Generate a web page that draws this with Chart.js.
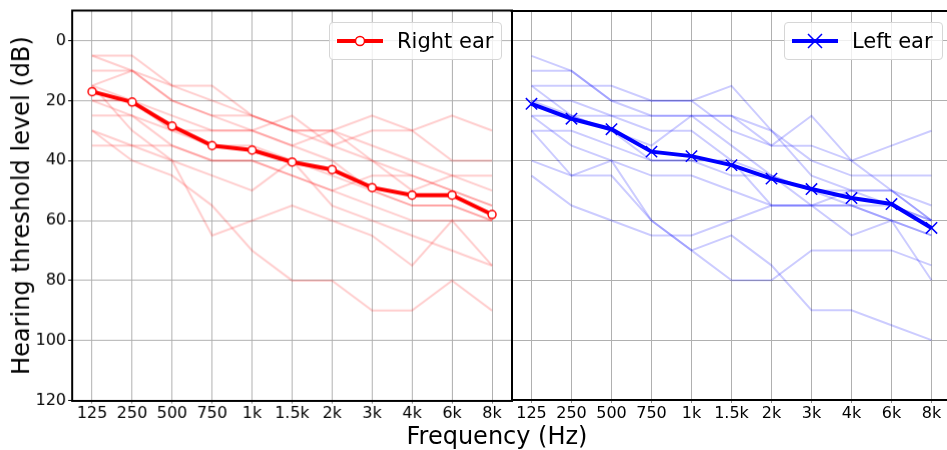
<!DOCTYPE html>
<html>
<head>
<meta charset="utf-8">
<script src="https://cdn.jsdelivr.net/npm/chart.js@4/dist/chart.umd.min.js"></script>
<style>
  html, body { margin: 0; padding: 0; background: #fff; overflow: hidden; }
  #wrap { position: relative; width: 947px; height: 450px; overflow: hidden; font-family: 'DejaVu Sans', sans-serif; }
  canvas { position: absolute; top: 0; }
  #xtitle { position: absolute; left: 0; width: 994px; top: 422px; text-align: center; font-size: 24px; color: #000; }
  .leg { position: absolute; top: 22px; height: 36px; border: 1px solid #d6d6d6; border-radius: 4px;
         background: rgba(255,255,255,0.8); display: flex; align-items: center; font-size: 21px; color: #000; }
  .leg svg { margin: 0 14px 0 7px; }
</style>
</head>
<body>
<div id="wrap">
  <canvas id="cRight" width="520" height="450" style="left:0"></canvas>
  <canvas id="cLeft" width="460" height="450" style="left:509px"></canvas>
  <div id="xtitle">Frequency (Hz)</div>
  <div class="leg" style="left:329px;width:171px">
    <svg width="46" height="20"><line x1="0" y1="10" x2="46" y2="10" stroke="#ff0000" stroke-width="4"/><circle cx="23" cy="10" r="4.5" fill="#fff" stroke="#ff0000" stroke-width="1.5"/></svg>
    <span>Right ear</span>
  </div>
  <div class="leg" style="left:784px;width:157px">
    <svg width="46" height="20"><line x1="0" y1="10" x2="46" y2="10" stroke="#0000ff" stroke-width="4"/><path d="M16 3 L30 17 M30 3 L16 17" stroke="#0000ff" stroke-width="1.5"/></svg>
    <span>Left ear</span>
  </div>
</div>
<script>
// frequencies on the x axis
const freqs = ['125', '250', '500', '750', '1k', '1.5k', '2k', '3k', '4k', '6k', '8k'];
const yTicks = [0, 20, 40, 60, 80, 100, 120];

// mean thresholds (dB)
const rightMean = [17, 20.5, 28.5, 35, 36.5, 40.5, 43, 49, 51.5, 51.5, 58];
const leftMean = [21, 26, 29.5, 37, 38.5, 41.5, 46, 49.5, 52.5, 54.5, 62.5];

// individual audiograms, right ear
const rightSubjects = [
  [5, 5, 15, 20, 25, 30, 35, 40, 45, 50, 55],
  [5, 10, 20, 25, 25, 30, 30, 35, 40, 45, 45],
  [10, 10, 20, 25, 30, 25, 35, 30, 30, 40, 40],
  [15, 10, 15, 15, 25, 30, 30, 25, 30, 25, 30],
  [15, 20, 25, 30, 30, 35, 30, 40, 50, 45, 50],
  [20, 20, 30, 35, 35, 40, 45, 50, 55, 55, 60],
  [25, 25, 35, 40, 40, 45, 50, 55, 60, 60, 75],
  [30, 40, 45, 55, 70, 80, 80, 90, 90, 80, 90],
  [30, 35, 40, 45, 50, 40, 55, 60, 65, 70, 75],
  [35, 35, 35, 40, 40, 45, 50, 45, 45, 50, 55],
  [15, 30, 40, 65, 60, 55, 60, 65, 75, 60, 60],
  [20, 25, 30, 30, 30, 35, 40, 50, 55, 55, 60]
];

// individual audiograms, left ear
const leftSubjects = [
  [5, 10, 20, 25, 25, 25, 35, 35, 40, 50, 60],
  [10, 10, 20, 20, 20, 15, 30, 45, 50, 50, 55],
  [15, 15, 15, 20, 20, 30, 35, 25, 40, 35, 30],
  [15, 25, 30, 35, 25, 25, 30, 40, 45, 45, 45],
  [20, 20, 25, 25, 25, 35, 45, 50, 50, 55, 60],
  [25, 25, 30, 40, 40, 45, 45, 55, 55, 60, 80],
  [30, 30, 35, 40, 40, 40, 55, 55, 55, 55, 60],
  [40, 45, 40, 45, 45, 50, 55, 55, 65, 60, 65],
  [45, 55, 60, 65, 65, 60, 55, 55, 50, 50, 60],
  [30, 45, 45, 60, 70, 80, 80, 70, 70, 70, 75],
  [25, 35, 40, 60, 70, 65, 75, 90, 90, 95, 100],
  [20, 25, 25, 30, 30, 40, 45, 50, 55, 60, 65]
];

Chart.defaults.font.family = "'DejaVu Sans', sans-serif";
Chart.defaults.color = '#000';

const topSpine = {
  id: 'topSpine',
  afterDraw(chart) {
    const a = chart.chartArea, ctx = chart.ctx;
    ctx.save();
    ctx.strokeStyle = '#000';
    ctx.lineWidth = 2;
    ctx.beginPath();
    ctx.moveTo(a.left - 1, a.top);
    ctx.lineTo(a.right + 1, a.top);
    ctx.stroke();
    ctx.restore();
  }
};

function build(canvas, subjects, mean, color, faint, pointStyle, withAxis)
{
  let sets = [];
  sets.push({
    data: mean,
    borderColor: color,
    borderWidth: 4,
    pointStyle: pointStyle,
    pointRadius: pointStyle === 'circle' ? 4 : 8,
    pointBorderWidth: 1.5,
    pointBorderColor: color,
    pointBackgroundColor: pointStyle === 'circle' ? '#fff' : color,
    tension: 0
  });
  subjects.forEach(s => {
    sets.push({
      data: s,
      borderColor: faint,
      borderWidth: 2,
      pointRadius: 0,
      tension: 0
    });
  });

  return new Chart(canvas, {
    type: 'line',
    data: { labels: freqs, datasets: sets },
    options: {
      responsive: false,
      maintainAspectRatio: false,
      animation: false,
      devicePixelRatio: 1,
      layout: { padding: { top: 11, right: 0, left: 0, bottom: 0 } },
      plugins: { legend: { display: false }, tooltip: { enabled: false } },
      scales: {
        x: {
          offset: true,
          grid: { color: '#b0b0b0', lineWidth: 1, tickLength: 3, tickColor: '#888' },
          border: { color: '#000', width: 2 },
          ticks: { font: { size: 16 }, padding: 1, maxRotation: 0, autoSkip: false },
          afterFit: s => { s.height = 50; }
        },
        y: {
          reverse: true,
          min: -10,
          max: 120,
          afterBuildTicks: s => { s.ticks = yTicks.map(v => ({ value: v })); },
          grid: { color: '#b0b0b0', lineWidth: 1, drawTicks: withAxis, tickLength: 4, tickColor: '#000' },
          border: { color: '#000', width: 2 },
          ticks: { display: withAxis, font: { size: 16 }, padding: 2 },
          title: {
            display: withAxis,
            text: 'Hearing threshold level (dB)',
            font: { size: 24 },
            padding: { top: 8, bottom: 0 }
          },
          afterFit: s => { s.width = withAxis ? 72 : 2; }
        }
      }
    },
    plugins: [topSpine]
  });
}

// resize each chart so its plot area spans [x0, x1] x [y0, y1] of the page
function place(chart, canvas, x0, x1, y0, y1)
{
  for (let i = 0; i < 3; i++) {
    let a = chart.chartArea;
    let extraW = chart.width - (a.right - a.left);
    let extraH = chart.height - (a.bottom - a.top);
    chart.resize(x1 - x0 + extraW, y1 - y0 + extraH);
  }
  canvas.style.left = (x0 - chart.chartArea.left) + 'px';
  canvas.style.top = (y0 - chart.chartArea.top) + 'px';
}

let cR = document.getElementById('cRight');
let cL = document.getElementById('cLeft');
let chR = build(cR, rightSubjects, rightMean, '#ff0000', 'rgba(255,0,0,0.2)', 'circle', true);
let chL = build(cL, leftSubjects, leftMean, '#0000ff', 'rgba(0,0,255,0.2)', 'crossRot', false);
place(chR, cR, 72, 511, 11, 400);
place(chL, cL, 511, 951, 11, 400);
</script>
</body>
</html>
